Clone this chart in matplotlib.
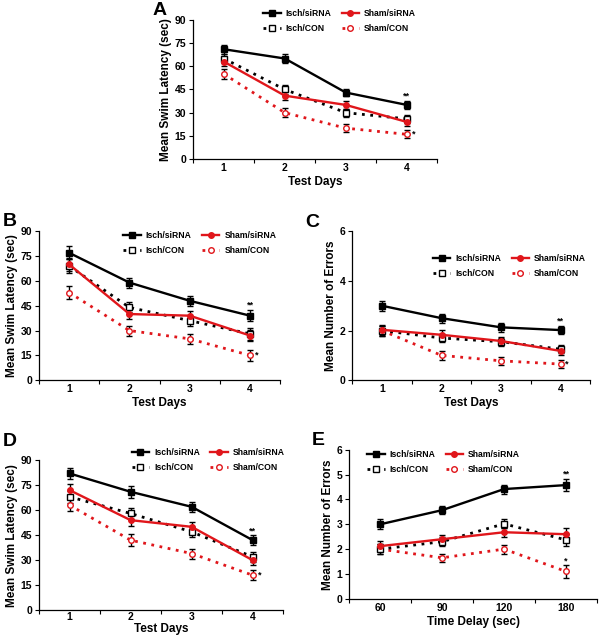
import matplotlib
matplotlib.use('Agg')
import matplotlib.pyplot as plt
import numpy as np

plt.rcParams['font.family'] = ['Liberation Sans', 'DejaVu Sans']
plt.rcParams['font.weight'] = 'bold'

# group names
groups = ['Isch/siRNA', 'Sham/siRNA', 'Isch/CON', 'Sham/CON']

# panel A - swim latency
a_days = ['1', '2', '3', '4']
a_isch_sirna = [71, 65, 43, 35]
a_sham_sirna = [63, 41, 35, 24]
a_isch_con = [65, 45, 30, 26]
a_sham_con = [55, 30, 20, 16]
a_err = [3, 3, 2.5, 2.5]

# panel B - swim latency
b_isch_sirna = [77, 59, 48, 39]
b_sham_sirna = [70, 40, 39, 27]
b_isch_con = [69, 44, 36, 28]
b_sham_con = [53, 30, 25, 15]
b_err = [4, 3, 3, 3.5]

# panel C - number of errors
c_isch_sirna = [3.0, 2.5, 2.13, 2.02]
c_sham_sirna = [2.03, 1.83, 1.58, 1.18]
c_isch_con = [2.0, 1.7, 1.55, 1.25]
c_sham_con = [2.0, 1.0, 0.78, 0.65]
c_err = [0.2, 0.18, 0.17, 0.17]

# panel D - swim latency
d_isch_sirna = [82, 71, 62, 42]
d_sham_sirna = [72, 54, 50, 30]
d_isch_con = [68, 58, 47, 32]
d_sham_con = [63, 42, 34, 21]
d_err = [3.5, 3.5, 3, 3]

# panel E - errors vs time delay
e_delays = ['60', '90', '120', '180']
e_isch_sirna = [3.0, 3.57, 4.42, 4.58]
e_sham_sirna = [2.12, 2.4, 2.68, 2.6]
e_isch_con = [2.0, 2.3, 3.02, 2.37]
e_sham_con = [2.0, 1.65, 2.0, 1.1]
e_err = [0.2, 0.17, 0.18, 0.25]

RED = '#e0161b'


def draw_panel(ax, xlabels, series, err, ylim, yticks, xlabel, ylabel,
               leg_anchor, star_offsets, xpad=2):
    '''Draw the four groups with error bars on one axes.'''
    x = np.arange(1, len(xlabels) + 1)
    isch_sirna, sham_sirna, isch_con, sham_con = series
    styles = [
        dict(color='black', ls='-', marker='s', mfc='black', lw=1.7),
        dict(color=RED, ls='-', marker='o', mfc=RED, lw=1.7),
        dict(color='black', ls=(0, (1, 2.0)), marker='s', mfc='white', lw=2.0),
        dict(color=RED, ls=(0, (1, 2.0)), marker='o', mfc='white', lw=2.0),
    ]
    handles = [None] * 4
    for i in [3, 2, 1, 0]:
        y = series[i]
        st = styles[i]
        ax.errorbar(x, y, yerr=err, fmt='none', ecolor='black',
                    elinewidth=1.0, capsize=2.2, capthick=1.0, zorder=2)
        h, = ax.plot(x, y, color=st['color'], ls=st['ls'], lw=st['lw'],
                     marker=st['marker'], ms=4.0, mfc=st['mfc'],
                     mec=st['color'], mew=1.0, zorder=3 + (3 - i),
                     label=groups[i])
        handles[i] = h

    ax.set_xlim(0.5, len(xlabels) + 0.5)
    ax.set_ylim(*ylim)
    ax.set_yticks(yticks)
    ax.set_xticks(np.arange(0.5, len(xlabels) + 1, 1))
    ax.set_xticklabels([])
    ax.set_xticks(x, minor=True)
    ax.set_xticklabels(xlabels, minor=True)
    ax.tick_params(axis='x', which='minor', length=0, labelsize=7.5, pad=xpad + 1)
    ax.tick_params(axis='x', which='major', length=3, width=0.8)
    ax.tick_params(axis='y', length=3, width=0.8, labelsize=7.5, pad=2)
    for lab in ax.get_xticklabels(minor=True) + ax.get_yticklabels():
        lab.set_fontweight('bold')
    ax.spines['top'].set_visible(False)
    ax.spines['right'].set_visible(False)
    ax.spines['left'].set_linewidth(0.9)
    ax.spines['bottom'].set_linewidth(0.9)
    ax.set_xlabel(xlabel, fontsize=8.5, fontweight='bold', labelpad=xpad)
    ax.set_ylabel(ylabel, fontsize=8.5, fontweight='bold', labelpad=2)

    # legend filled column-first: row 1 = siRNA groups, row 2 = CON groups
    leg_handles = [handles[0], handles[2], handles[1], handles[3]]
    leg = ax.legend(handles=leg_handles, ncol=2, loc='upper left',
                    bbox_to_anchor=leg_anchor, frameon=False, fontsize=6.2,
                    handlelength=2.0, columnspacing=1.2, handletextpad=0.6,
                    labelspacing=0.7, borderaxespad=0, borderpad=0)
    for t in leg.get_texts():
        t.set_fontweight('bold')

    # significance marks
    n = len(xlabels)
    dy_top, dx_side, above = star_offsets
    ax.text(n, isch_sirna[-1] + dy_top, '**', ha='center', va='bottom',
            fontsize=6.5, fontweight='bold')
    if above:
        ax.text(n, sham_con[-1] + dy_top * 0.9, '*', ha='center',
                va='bottom', fontsize=6.5, fontweight='bold')
    else:
        ax.text(n + dx_side, sham_con[-1], '*', ha='left', va='center',
                fontsize=6.5, fontweight='bold')


fig = plt.figure(figsize=(6.0, 6.39), dpi=100)

lat_label = 'Mean Swim Latency (sec)'
err_label = 'Mean Number of Errors'

axA = fig.add_axes([0.322, 0.751, 0.407, 0.218])
draw_panel(axA, a_days, [a_isch_sirna, a_sham_sirna, a_isch_con, a_sham_con],
           a_err, (0, 90), range(0, 91, 15), 'Test Days', lat_label,
           (0.287, 1.08), (3.0, 0.08, False))

axB = fig.add_axes([0.065, 0.405, 0.402, 0.233])
draw_panel(axB, a_days, [b_isch_sirna, b_sham_sirna, b_isch_con, b_sham_con],
           b_err, (0, 90), range(0, 91, 15), 'Test Days', lat_label,
           (0.35, 1.0), (4.0, 0.08, False))

axC = fig.add_axes([0.587, 0.405, 0.397, 0.233])
draw_panel(axC, a_days, [c_isch_sirna, c_sham_sirna, c_isch_con, c_sham_con],
           c_err, (0, 6), range(0, 7, 2), 'Test Days', err_label,
           (0.34, 0.845), (0.2, 0.08, False))

axD = fig.add_axes([0.065, 0.045, 0.407, 0.235])
draw_panel(axD, a_days, [d_isch_sirna, d_sham_sirna, d_isch_con, d_sham_con],
           d_err, (0, 90), range(0, 91, 15), 'Test Days', lat_label,
           (0.38, 1.08), (3.0, 0.08, False), xpad=0.5)

axE = fig.add_axes([0.582, 0.063, 0.413, 0.233])
draw_panel(axE, e_delays, [e_isch_sirna, e_sham_sirna, e_isch_con, e_sham_con],
           e_err, (0, 6), range(0, 7, 1), 'Time Delay (sec)', err_label,
           (0.073, 1.0), (0.27, 0.08, True))

for lbl, (px, py) in zip('ABCDE', [(0.255, 0.997), (0.005, 0.667),
                                   (0.508, 0.665), (0.005, 0.322),
                                   (0.52, 0.324)]):
    fig.text(px, py, lbl, fontsize=14, fontweight='bold', va='top', ha='left')

fig.savefig('out.png', dpi=100)
